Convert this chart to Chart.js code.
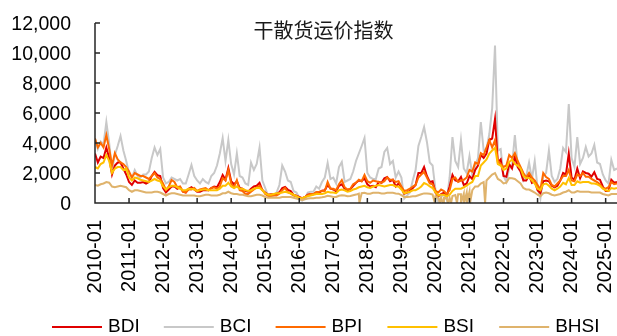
<!DOCTYPE html>
<html>
<head>
<meta charset="utf-8">
<script src="https://cdn.jsdelivr.net/npm/chart.js@4.4.1/dist/chart.umd.min.js"></script>
<style>
  html, body { margin: 0; padding: 0; background: #fff; }
  canvas { display: block; }
</style>
</head>
<body>
<canvas id="c" width="617" height="336"></canvas>
<script>
// 干散货运价指数 — monthly readings, 2010-01 … 2025-05
const chartTitle = '干散货运价指数';
const yearTicks = ['2010-01','2011-01','2012-01','2013-01','2014-01','2015-01','2016-01','2017-01',
                   '2018-01','2019-01','2020-01','2021-01','2022-01','2023-01','2024-01','2025-01'];
const seriesNames = ['BDI', 'BCI', 'BPI', 'BSI', 'BHSI'];

const bdi = [
  3300, 2700, 3100, 3000, 3700, 3000, 1900, 2500, 2700, 2700, 2300, 1900,
  1400, 1200, 1500, 1350, 1350, 1400, 1300, 1400, 1800, 2070, 1850, 1800,
  1000, 700, 900, 1100, 1100, 950, 1050, 750, 700, 950, 1050, 900,
  750, 750, 850, 850, 850, 1000, 1100, 1050, 1400, 1870, 1550, 2330,
  1450, 1250, 1450, 1000, 950, 800, 750, 950, 1100, 1150, 1350, 850,
  700, 550, 580, 590, 600, 720, 1000, 1070, 880, 800, 550, 480,
  400, 320, 380, 560, 600, 580, 720, 680, 820, 850, 1200, 980,
  900, 780, 1150, 1250, 950, 850, 920, 1150, 1350, 1500, 1450, 1650,
  1250, 1100, 1150, 1050, 1400, 1350, 1650, 1730, 1450, 1550, 1100, 1300,
  1050, 620, 700, 800, 1000, 1200, 2000, 2000, 2400, 1800, 1400, 1450,
  700, 450, 600, 680, 480, 1100, 1870, 1500, 1450, 1730, 1200, 1300,
  1800, 1600, 2200, 2500, 3200, 3000, 3300, 4200, 4300, 5600, 2700, 2900,
  1800, 1750, 2600, 2300, 3100, 2400, 2100, 1500, 1500, 1850, 1350, 1450,
  850, 650, 1450, 1500, 1450, 1150, 1050, 1150, 1500, 2000, 1900, 3300,
  1700, 1550, 2300, 1650, 2100, 2000, 1950, 1750, 2050, 1600, 1550, 1100,
  800, 800, 1550, 1350, 1400
];
const bci = [
  4300, 3600, 4100, 3900, 5400, 4000, 2200, 3200, 3800, 4470, 3500, 2800,
  2000, 1700, 2200, 1800, 1700, 1900, 1900, 2100, 3000, 3700, 3200, 3600,
  1700, 1300, 1400, 1700, 1600, 1500, 1600, 1300, 1300, 1900, 2530, 1800,
  1500, 1300, 1600, 1400, 1300, 1800, 2000, 2500, 3300, 4330, 2800, 4200,
  2600, 1900, 3300, 1800, 1700, 1300, 1200, 2700, 2200, 2600, 3700, 1500,
  1000, 500, 400, 500, 700, 1200, 2500, 2100, 1500, 1400, 800, 700,
  350, 150, 300, 700, 750, 750, 1100, 950, 1400, 1700, 2670, 1600,
  1700, 1300, 2400, 2730, 1400, 1500, 1600, 2100, 2800, 3300, 3800, 4330,
  2000, 1700, 1600, 1600, 2300, 2400, 3400, 3670, 2600, 2800, 1700, 2100,
  1700, 300, 500, 700, 1500, 2200, 3800, 4400, 5060, 4070, 2700, 2500,
  900, 50, 400, 600, 200, 1700, 4400, 2800, 2400, 4200, 2300, 2000,
  3130, 1800, 2500, 3000, 5400, 3500, 3600, 4600, 6330, 10500, 3500, 3600,
  1800, 1400, 2300, 2500, 4530, 2500, 2200, 1500, 1800, 2700, 1600, 2800,
  1000, 300, 1800, 2000, 3500, 1800, 1400, 1600, 2300, 3670, 3400, 6600,
  3000, 2400, 4400, 2600, 3000, 3730, 3100, 3300, 3870, 2700, 2600, 1900,
  1500, 1300, 2870, 2200, 2300
];
const bpi = [
  4300, 3700, 4000, 3700, 4530, 3600, 2500, 3330, 2900, 2700, 2600, 2400,
  2100, 1700, 2000, 1900, 1800, 1800, 1700, 1600, 1800, 2000, 1700, 1600,
  1300, 870, 1100, 1530, 1400, 1050, 1100, 750, 700, 900, 900, 1000,
  800, 900, 950, 1000, 850, 1000, 1050, 950, 1100, 1650, 1500, 2200,
  1300, 1050, 1530, 850, 800, 600, 600, 750, 900, 1050, 1150, 900,
  600, 480, 460, 520, 500, 620, 850, 1000, 720, 620, 500, 450,
  350, 300, 400, 520, 600, 600, 720, 750, 800, 800, 1400, 950,
  950, 850, 1250, 1530, 1050, 900, 950, 1250, 1350, 1550, 1450, 1870,
  1450, 1350, 1500, 1450, 1400, 1350, 1450, 1700, 1550, 1550, 1400, 1450,
  1100, 800, 850, 950, 1100, 1200, 1700, 1900, 2070, 1700, 1300, 1250,
  800, 700, 900, 800, 600, 850, 1600, 1700, 1400, 1500, 1550, 1700,
  2200, 2100, 2700, 2600, 3330, 3200, 3700, 4200, 3700, 4200, 2800, 2600,
  2400, 2500, 3200, 3000, 3330, 2800, 2400, 2000, 1700, 2000, 1700, 1500,
  1200, 900, 2000, 1730, 1600, 1200, 1100, 1300, 1500, 1800, 1800, 2200,
  1500, 1450, 1900, 1800, 2000, 1750, 1750, 1600, 1500, 1400, 1250, 1000,
  950, 1050, 1400, 1250, 1300
];
const bsi = [
  2400, 2300, 2600, 2700, 3200, 2800, 2000, 2300, 2400, 2400, 2200, 2300,
  1700, 1500, 1700, 1650, 1550, 1500, 1450, 1400, 1500, 1600, 1500, 1450,
  1100, 900, 1050, 1150, 1150, 1050, 950, 850, 850, 950, 950, 900,
  800, 850, 900, 900, 850, 850, 850, 850, 950, 1150, 1150, 1350,
  1100, 1000, 1100, 950, 950, 850, 800, 850, 950, 1000, 1000, 850,
  650, 550, 550, 600, 650, 650, 700, 750, 700, 650, 550, 450,
  350, 300, 400, 450, 500, 550, 600, 600, 600, 650, 750, 700,
  700, 650, 850, 900, 850, 750, 800, 900, 950, 1050, 1100, 1150,
  1050, 1000, 1100, 1150, 1200, 1150, 1100, 1150, 1200, 1200, 1100, 1100,
  900, 650, 700, 750, 850, 850, 950, 1100, 1330, 1250, 1100, 1000,
  700, 500, 550, 550, 450, 550, 800, 950, 950, 950, 1050, 1150,
  1300, 1400, 1800, 1800, 2500, 2700, 2900, 3300, 3500, 3670, 2600, 2500,
  2200, 2300, 2730, 2900, 2600, 2500, 2300, 1800, 1650, 1700, 1500, 1300,
  950, 850, 1250, 1300, 1150, 950, 850, 950, 1100, 1350, 1250, 1670,
  1200, 1200, 1450, 1350, 1400, 1400, 1400, 1300, 1300, 1250, 1150, 950,
  850, 800, 1000, 950, 1000
];
const bhsi = [
  1200, 1150, 1250, 1300, 1400, 1350, 1100, 1050, 1100, 1150, 1100, 1050,
  850, 750, 850, 850, 800, 750, 700, 700, 700, 750, 750, 700,
  600, 500, 600, 650, 650, 600, 550, 500, 500, 500, 500, 500,
  450, 450, 500, 550, 550, 500, 500, 500, 550, 650, 650, 750,
  650, 600, 600, 550, 550, 500, 450, 450, 500, 550, 550, 500,
  400, 350, 350, 350, 350, 350, 400, 400, 400, 400, 350, 300,
  250, 200, 250, 300, 320, 320, 350, 350, 380, 420, 480, 450,
  400, 400, 480, 520, 500, 450, 470, 520, 560, 620, 650, 680,
  620, 620, 680, 680, 680, 640, 640, 680, 680, 680, 640, 620,
  520, 400, 400, 420, 450, 450, 520, 580, 640, 640, 620, 560,
  450, 350, 350, 350, 300, 350, 470, 530, 580, 580, 620, 680,
  750, 850, 1100, 1100, 1300, 1400, 1500, 1700, 1900, 2000, 1600, 1500,
  1300, 1350, 1670, 1650, 1600, 1450, 1300, 1000, 900, 900, 800, 700,
  550, 450, 650, 700, 650, 550, 500, 550, 600, 700, 750, 850,
  700, 700, 800, 750, 750, 750, 750, 700, 700, 700, 700, 600,
  550, 500, 600, 600, 600
];
// BHSI readings published as zero (month offsets from 2010-01)
const bhsiGaps = [93.2, 119.8, 121.6, 122.7, 124.4, 125.5, 127.6, 129.0, 130.1, 131.1, 132.2, 137.5];

const seriesColors = ['#E00000', '#C8C8C8', '#FF6A00', '#FFC000', '#DFB36C'];
const drawOrder = [3, 4, 2, 1, 0];   // lower value is painted on top

const toPoints = arr => arr.map((v, i) => ({ x: i, y: v }));
const bhsiPoints = toPoints(bhsi)
  .concat(bhsiGaps.map(g => ({ x: g, y: 0 })))
  .sort((a, b) => a.x - b.x);

const seriesData = [toPoints(bdi), toPoints(bci), toPoints(bpi), toPoints(bsi), bhsiPoints];
const lastIndex = bdi.length - 1;

const FONT = '"Liberation Sans", Arial, sans-serif';

// axis lines with inward tick marks, the title, and the legend row
const decorPlugin = {
  id: 'decor',
  afterDatasetsDraw(chart) {
    const { ctx, chartArea: a, scales: { x, y } } = chart;
    ctx.save();
    ctx.strokeStyle = '#262626';
    ctx.lineWidth = 1.5;
    ctx.beginPath();
    ctx.moveTo(a.left, a.top);
    ctx.lineTo(a.left, a.bottom);
    ctx.lineTo(a.right, a.bottom);
    y.ticks.forEach(t => {
      const py = y.getPixelForValue(t.value);
      ctx.moveTo(a.left, py); ctx.lineTo(a.left + 5, py);
    });
    x.ticks.forEach(t => {
      const px = x.getPixelForValue(t.value);
      ctx.moveTo(px, a.bottom); ctx.lineTo(px, a.bottom - 5);
    });
    ctx.stroke();
    ctx.restore();
  },
  afterDraw(chart) {
    const { ctx } = chart;
    ctx.save();
    ctx.fillStyle = '#1a1a1a';
    ctx.font = '20px "Noto Sans CJK SC", sans-serif';
    ctx.textAlign = 'center';
    ctx.textBaseline = 'middle';
    ctx.fillText(chartTitle, 323.5, 30);

    ctx.font = '19px ' + FONT;
    ctx.textAlign = 'left';
    chart.data.datasets.forEach((ds, i) => {
      const x0 = 52 + i * 111.8;
      const yy = 327;
      ctx.strokeStyle = ds.borderColor;
      ctx.lineWidth = 2;
      ctx.beginPath();
      ctx.moveTo(x0, yy); ctx.lineTo(x0 + 50, yy);
      ctx.stroke();
      ctx.fillStyle = '#000';
      ctx.fillText(ds.label, x0 + 56, yy);
    });
    ctx.restore();
  }
};

new Chart(document.getElementById('c'), {
  type: 'line',
  data: {
    datasets: seriesNames.map((name, i) => ({
      label: name,
      data: seriesData[i],
      borderColor: seriesColors[i],
      backgroundColor: seriesColors[i],
      borderWidth: 2,
      pointRadius: 0,
      tension: 0,
      order: drawOrder[i]
    }))
  },
  options: {
    responsive: false,
    animation: false,
    devicePixelRatio: 1,
    layout: { padding: { top: 23, right: 0, bottom: 0, left: 0 } },
    plugins: { legend: { display: false }, title: { display: false }, tooltip: { enabled: false } },
    scales: {
      x: {
        type: 'linear',
        min: 0,
        max: lastIndex,
        grid: { display: false, drawTicks: false },
        border: { display: false },
        afterBuildTicks: s => { s.ticks = yearTicks.map((_, i) => ({ value: i * 12 })); },
        afterFit: s => { s.height = 133; s.paddingLeft = 0; s.paddingRight = 0; },
        ticks: {
          autoSkip: false,
          minRotation: 90,
          maxRotation: 90,
          padding: 17,
          color: '#000',
          font: { family: FONT, size: 20 },
          callback: v => yearTicks[Math.round(v / 12)]
        }
      },
      y: {
        min: 0,
        max: 12000,
        grid: { display: false, drawTicks: false },
        border: { display: false },
        afterFit: s => { s.width = 95; s.paddingTop = 0; s.paddingBottom = 0; },
        ticks: {
          stepSize: 2000,
          padding: 24,
          labelOffset: 1.5,
          color: '#000',
          font: { family: FONT, size: 19.5 },
          callback: v => v.toLocaleString('en-US')
        }
      }
    }
  },
  plugins: [decorPlugin]
});
</script>
</body>
</html>
